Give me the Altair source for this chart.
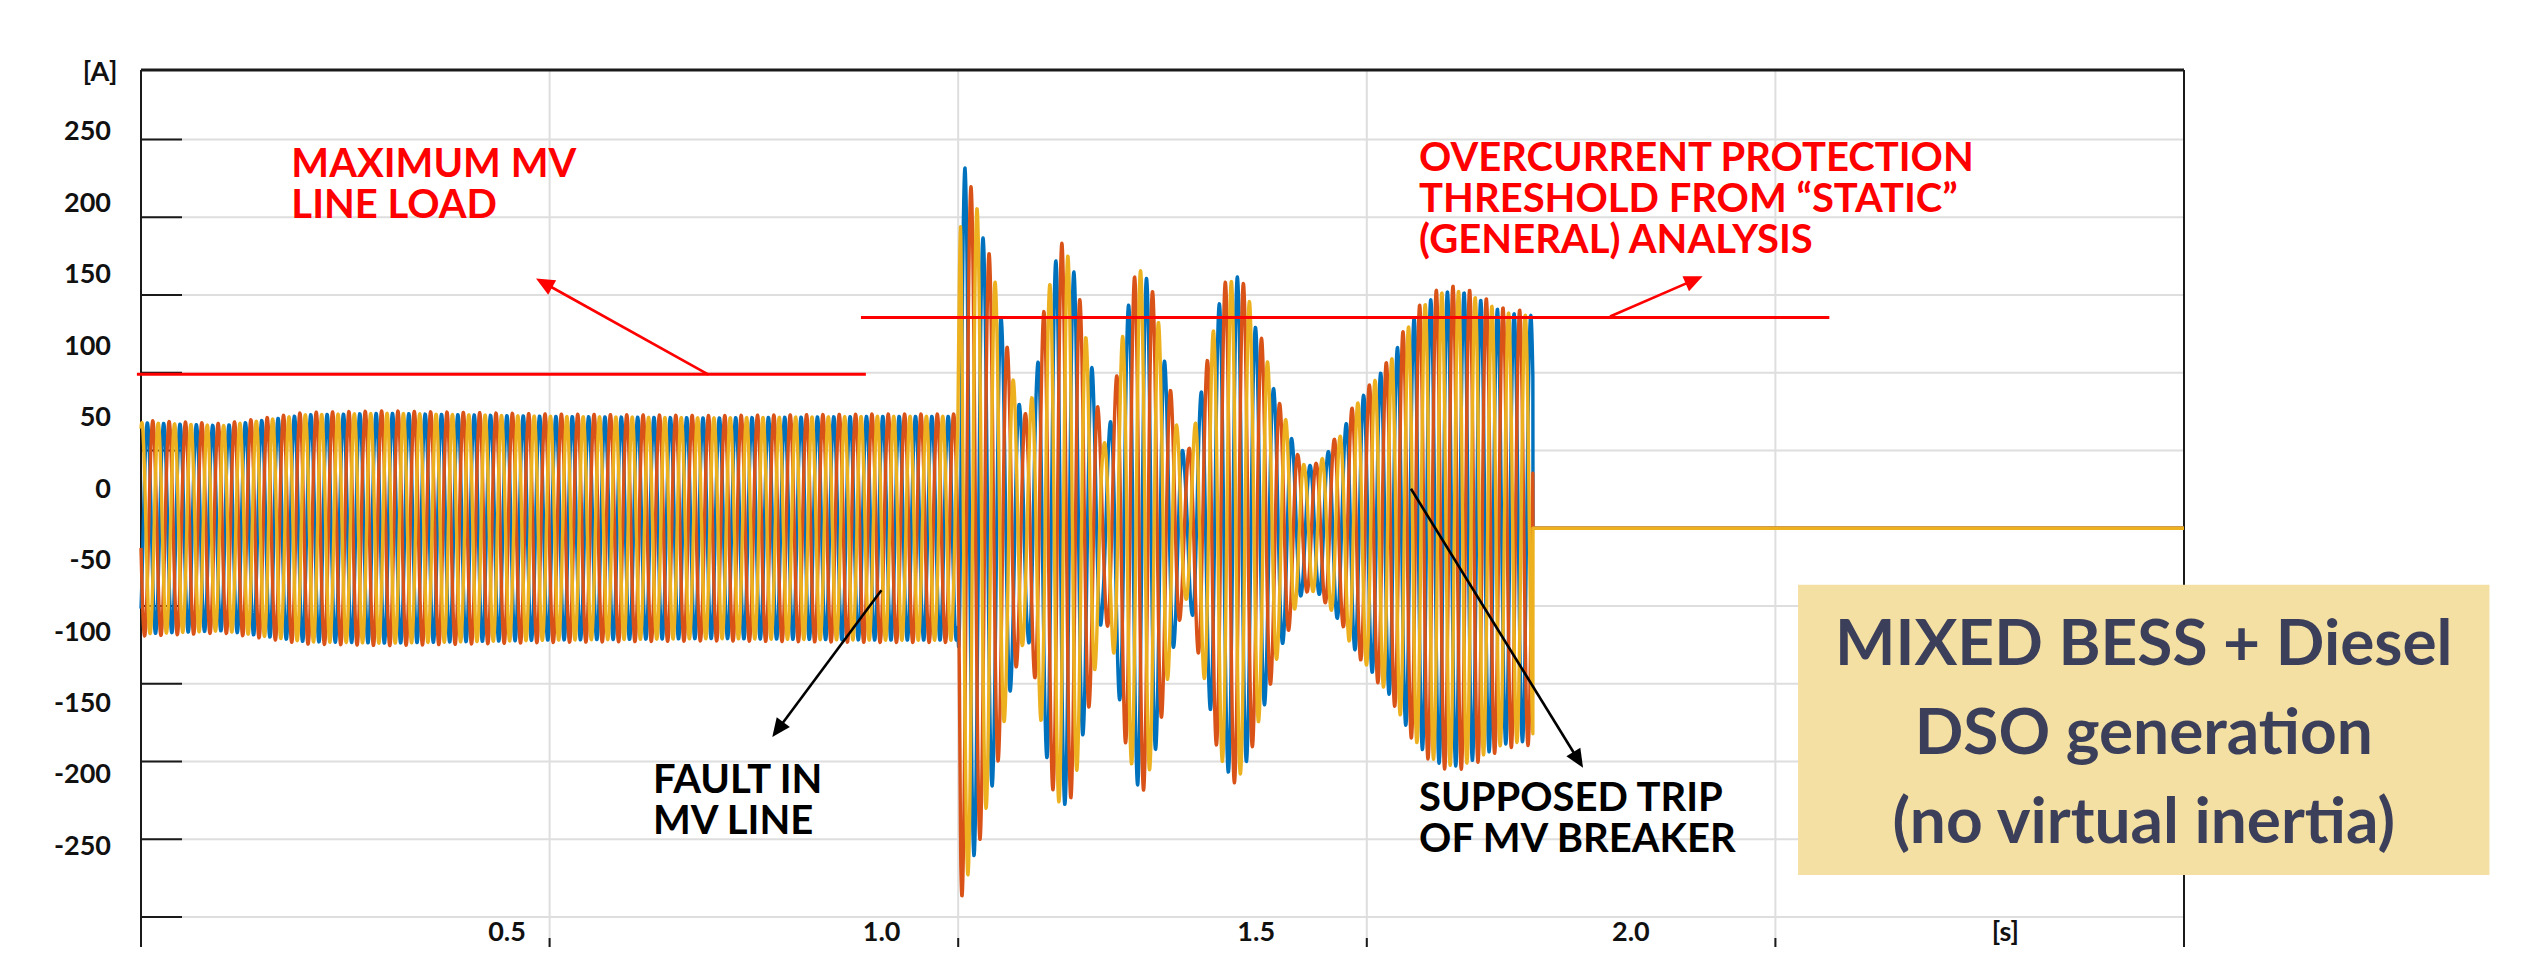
import numpy as np
import pandas as pd
import altair as alt

# ---------------- data ----------------
T_END = 2.5            # s, end of record (right frame)
TRIP_T = 1.7034        # s, breaker trip
BLUE_PEAK_T = 1.0083   # s, first big positive (blue) peak after the fault

# Peak amplitude envelope of the phase currents [A]
ENV_T = [0.0, 0.10, 0.20, 0.30, 0.50, 0.70, 0.90, 0.9995, 1.003, 1.0083, 1.0144,
         1.0230, 1.0303, 1.0365, 1.0450, 1.0536, 1.0597, 1.0671, 1.0756, 1.085,
         1.0964, 1.1025, 1.1099, 1.1185, 1.127, 1.1344, 1.1429, 1.1515, 1.1576,
         1.165, 1.1772, 1.1882, 1.1956, 1.2041, 1.2127, 1.220, 1.2274, 1.2359,
         1.2433, 1.2506, 1.2592, 1.2678, 1.2775, 1.2861, 1.2934, 1.3045, 1.3106,
         1.3179, 1.3265, 1.3326, 1.3412, 1.3485, 1.3571, 1.3632, 1.3718, 1.3791,
         1.3852, 1.3938, 1.4024, 1.4085, 1.4158, 1.4244, 1.4391, 1.4525, 1.4611,
         1.4697, 1.4794, 1.504, 1.532, 1.5443, 1.565, 1.587, 1.608, 1.6226, 1.642,
         1.6667, 1.696, 1.7034]
ENV_A = [68, 66, 73, 74, 72, 71, 72, 72, 232, 232, 217,
         206, 187, 176, 159, 132, 115, 96, 78, 70,
         102, 130, 152, 171, 180, 175, 163, 136, 119,
         100, 52, 72, 104, 134, 153, 166, 165, 153,
         139, 113, 89, 65, 44, 55, 78, 105, 123,
         142, 155, 158, 162, 155, 145, 130, 119, 106,
         91, 78, 68, 57, 46, 40, 41, 49, 57,
         60, 74, 91, 110, 124, 141, 151, 153, 151, 146,
         139, 137, 137]
PHASE_NAMES = ["L1", "L2", "L3"]
PHASE_COLORS = ["#0072BD", "#D95319", "#EDB120"]
PHASE_GAIN = [1.0, 1.02, 1.0]
PHASE_SHIFT_DEG = [0, 120, 240]
# Instantaneous frequency read from the spacing of the peaks [Hz]
FREQ_T = [0.0, 1.0, 1.006, 1.45, 1.53, TRIP_T]
FREQ_HZ = [50, 50, 45, 45, 49, 49]

# Axis tick values (as printed) and gridlines
Y_TICK_VALUES = [250, 200, 150, 100, 50, 0, -50, -100, -150, -200, -250]
X_TICK_VALUES = [0.5, 1.0, 1.5, 2.0]
Y_GRID = [250, 200, 150, 100, 50, 0, -50, -100, -150, -200, -250]
X_GRID = [0.5, 1.0, 1.5, 2.0]

# Threshold lines [A] and their time spans [s]
LIMIT_A = [99, 135.5]
LIMIT_T0 = [-0.005, 0.881]
LIMIT_T1 = [0.887, 2.066]

# Annotation texts (one block per annotation)
ANNOT_TEXT = ["MAXIMUM MV\nLINE LOAD",
              "OVERCURRENT PROTECTION\nTHRESHOLD FROM \u201cSTATIC\u201d\n(GENERAL) ANALYSIS",
              "FAULT IN\nMV LINE",
              "SUPPOSED TRIP\nOF MV BREAKER"]
ANNOT_T = [0.184, 1.564, 0.6265, 1.564]
ANNOT_A = [226.0, 230.0, -170.0, -181.8]
ANNOT_COLOR = ["#FF0000", "#FF0000", "#000000", "#000000"]

# Arrows: tail -> tip
ARROW_T0 = [0.6945, 1.7976, 0.906, 1.554]
ARROW_A0 = [98.8, 136.2, -39.9, 25.4]
ARROW_T1 = [0.4834, 1.911, 0.7725, 1.7646]
ARROW_A1 = [160.6, 162.0, -134.2, -154.0]
ARROW_COLOR = ["#FF0000", "#FF0000", "#000000", "#000000"]

BOX_TEXT = "MIXED BESS + Diesel\nDSO generation\n(no virtual inertia)"
BOX_T = [2.0277, 2.8738]
BOX_A = [-36.4, -223.0]
BOX_TEXT_A = -87.8

# ---------------- layout ----------------
W, H = 2043, 877
Y_DOM = [-269.3, 294.7]
X_DOM = [0.0, T_END]
PX_PER_S = W / (X_DOM[1] - X_DOM[0])
PX_PER_A = H / (Y_DOM[1] - Y_DOM[0])
XS = alt.Scale(domain=X_DOM, nice=False, zero=False)
YS = alt.Scale(domain=Y_DOM, nice=False, zero=False)
FONT = "Lato"
FRAME = "#1a1a1a"


def X(field):
    return alt.X(field, type="quantitative", scale=XS, axis=None)


def Y(field):
    return alt.Y(field, type="quantitative", scale=YS, axis=None)


# ---------------- waveforms ----------------
dt = 0.0004
t = np.arange(0.0, TRIP_T, dt)
freq = np.interp(t, FREQ_T, FREQ_HZ)
phase = 2 * np.pi * np.cumsum(freq) * dt
phi0 = np.pi / 2 - np.interp(BLUE_PEAK_T, t, phase)
env = np.interp(t, ENV_T, ENV_A)

layers = []

# gridlines
layers.append(alt.Chart(pd.DataFrame({"a": Y_GRID})).mark_rule(color="#dedede", strokeWidth=2).encode(
    y=Y("a"), x=alt.value(0), x2=alt.value(W)))
layers.append(alt.Chart(pd.DataFrame({"t": X_GRID})).mark_rule(color="#dedede", strokeWidth=2).encode(
    x=X("t"), y=alt.value(0), y2=alt.value(H)))
# inner y ticks
layers.append(alt.Chart(pd.DataFrame({"a": Y_GRID})).mark_rule(color=FRAME, strokeWidth=2).encode(
    y=Y("a"), x=alt.value(0), x2=alt.value(41)))
# bottom x ticks
layers.append(alt.Chart(pd.DataFrame({"t": X_GRID + [T_END]})).mark_rule(color=FRAME, strokeWidth=2).encode(
    x=X("t"), y=alt.value(H - 9), y2=alt.value(H)))
# frame: left axis, right edge, top edge
layers.append(alt.Chart(pd.DataFrame({"t": [0.0, T_END]})).mark_rule(color=FRAME, strokeWidth=2).encode(
    x=X("t"), y=alt.value(0), y2=alt.value(H)))
layers.append(alt.Chart(pd.DataFrame({"a": [Y_DOM[1]]})).mark_rule(color=FRAME, strokeWidth=3).encode(
    y=Y("a"), x=alt.value(0), x2=alt.value(W)))

for i, name in enumerate(PHASE_NAMES):
    y = PHASE_GAIN[i] * env * np.sin(phase + phi0 - np.deg2rad(PHASE_SHIFT_DEG[i]))
    tt = np.concatenate([t, [TRIP_T, T_END]])
    yy = np.concatenate([y, [0.0, 0.0]])
    df = pd.DataFrame({"t": tt, "a": yy, "i": np.arange(len(tt))})
    layers.append(alt.Chart(df).mark_line(color=PHASE_COLORS[i], strokeWidth=3.4,
                                          strokeJoin="round", clip=False).encode(
        x=X("t"), y=Y("a"), order="i:Q"))

# threshold lines
layers.append(alt.Chart(pd.DataFrame({"t0": LIMIT_T0, "t1": LIMIT_T1, "a": LIMIT_A}))
              .mark_rule(color="#FF0000", strokeWidth=3, clip=False).encode(
    x=X("t0"), x2="t1:Q", y=Y("a")))

# arrows
HEAD_SIZE = 420
r = np.sqrt(HEAD_SIZE) / 2
rows = []
for k in range(len(ARROW_T0)):
    dx = (ARROW_T1[k] - ARROW_T0[k]) * PX_PER_S
    dy = -(ARROW_A1[k] - ARROW_A0[k]) * PX_PER_A
    n = np.hypot(dx, dy)
    ux, uy = dx / n, dy / n
    tc = ARROW_T1[k] - ux * r / PX_PER_S
    ac = ARROW_A1[k] + uy * r / PX_PER_A
    ang = float(np.degrees(np.arctan2(ux, -uy)) % 360)
    rows.append({"t0": ARROW_T0[k], "a0": ARROW_A0[k], "tc": tc, "ac": ac,
                 "ang": ang, "color": ARROW_COLOR[k]})
arr = pd.DataFrame(rows)
layers.append(alt.Chart(arr).mark_rule(strokeWidth=2.6, clip=False).encode(
    x=X("t0"), x2="tc:Q", y=Y("a0"), y2="ac:Q",
    color=alt.Color("color:N", scale=None)))
layers.append(alt.Chart(arr).mark_point(shape="M0,-1L0.8,0.8L-0.8,0.8Z", filled=True,
                                        opacity=1, size=HEAD_SIZE, clip=False).encode(
    x=X("tc"), y=Y("ac"),
    angle=alt.Angle("ang:Q", scale=None),
    color=alt.Color("color:N", scale=None)))

# annotation texts
ann = pd.DataFrame({"text": ANNOT_TEXT, "t": ANNOT_T, "a": ANNOT_A, "color": ANNOT_COLOR})
layers.append(alt.Chart(ann).mark_text(align="left", baseline="alphabetic", font=FONT,
                                       fontWeight="bold", fontSize=40, lineHeight=41,
                                       lineBreak="\n", clip=False).encode(
    x=X("t"), y=Y("a"), text="text:N", color=alt.Color("color:N", scale=None)))

# box
layers.append(alt.Chart(pd.DataFrame({"t0": [BOX_T[0]], "t1": [BOX_T[1]],
                                      "a0": [BOX_A[0]], "a1": [BOX_A[1]]}))
              .mark_rect(color="#F5E0A3", clip=False).encode(
    x=X("t0"), x2="t1:Q", y=Y("a0"), y2="a1:Q"))
layers.append(alt.Chart(pd.DataFrame({"text": [BOX_TEXT], "a": [BOX_TEXT_A],
                                      "t": [(BOX_T[0] + BOX_T[1]) / 2]}))
              .mark_text(align="center", baseline="alphabetic", font=FONT, fontWeight="bold",
                         fontSize=64, lineHeight=89, lineBreak="\n", color="#3C3F5A",
                         clip=False).encode(
    x=X("t"), y=Y("a"), text="text:N"))

# printed tick labels (overlaid on the slide, slightly off the gridlines)
ylab = pd.DataFrame({"text": [str(v) for v in Y_TICK_VALUES],
                     "a": [24.8 + 0.919 * v for v in Y_TICK_VALUES]})
layers.append(alt.Chart(ylab).mark_text(align="right", baseline="middle", font=FONT,
                                        fontWeight="bold", fontSize=27, color="#111",
                                        clip=False).encode(
    y=Y("a"), x=alt.value(-30), text="text:N"))
xlab = pd.DataFrame({"text": [f"{v:.1f}" for v in X_TICK_VALUES] + ["[s]"],
                     "t": [-0.0105 + 0.9168 * v for v in X_TICK_VALUES + [2.5]]})
layers.append(alt.Chart(xlab).mark_text(align="center", baseline="middle", font=FONT,
                                        fontWeight="bold", fontSize=27, color="#111",
                                        clip=False).encode(
    x=X("t"), y=alt.value(H - 14), text="text:N"))
layers.append(alt.Chart(pd.DataFrame({"text": ["[A]"]})).mark_text(
    align="center", baseline="middle", font=FONT, fontWeight="bold", fontSize=27,
    color="#111", clip=False).encode(x=alt.value(-41), y=alt.value(3), text="text:N"))

chart = alt.layer(*layers).properties(
    width=W, height=H,
    autosize=alt.AutoSizeParams(type="none"),
    padding={"left": 133, "top": 62, "right": 330, "bottom": 0},
    background="white",
).configure_view(stroke=None)

chart.save("out.html", embed_options={"renderer": "svg", "actions": False})
